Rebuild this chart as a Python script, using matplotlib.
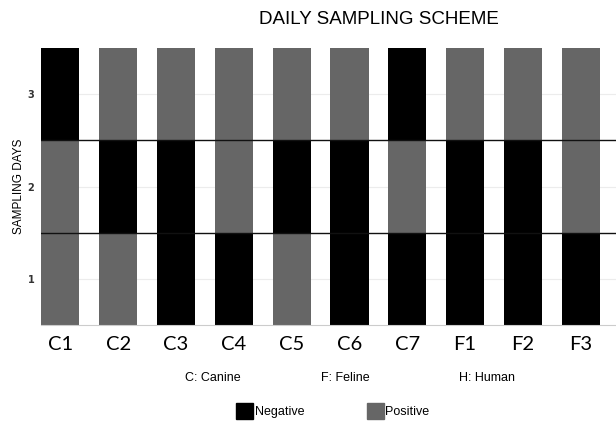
import matplotlib.pyplot as plt
import numpy as np
from matplotlib.patches import Patch

samples = ["C1", "C2", "C3", "C4", "C5", "C6", "C7", "F1", "F2", "F3"]
days = [1, 2, 3]
# 1 = positive, 0 = negative (per sampling day)
day1 = [1, 1, 0, 0, 1, 0, 0, 0, 0, 0]
day2 = [1, 0, 0, 1, 0, 0, 1, 0, 0, 1]
day3 = [0, 1, 1, 1, 1, 1, 0, 1, 1, 1]
species = ["C: Canine", "F: Feline", "H: Human"]

NEG = "#000000"
POS = "#666666"

fig = plt.figure(figsize=(6.16, 4.25), dpi=100)
ax = fig.add_axes([0.067, 0.235, 0.933, 0.652])

x = np.arange(len(samples))
bottom = np.zeros(len(samples))
for d, row in zip(days, [day1, day2, day3]):
    cols = [POS if v else NEG for v in row]
    ax.bar(x, 1, width=0.66, bottom=bottom, color=cols, zorder=2)
    bottom += 1

for d in days:
    ax.axhline(d - 0.5, color="#ececec", lw=0.8, zorder=1)
for b in [1, 2]:
    ax.axhline(b, color="#111111", lw=1.0, zorder=3)

ax.set_xlim(-0.33, 9.61)
ax.set_ylim(0, 3)
ax.set_yticks([d - 0.5 for d in days])
ax.set_yticklabels([str(d) for d in days], fontsize=7, fontweight="bold", color="#333333")
ax.tick_params(axis="y", length=0, pad=5)
ax.set_xticks(x)
ax.set_xticklabels(samples, fontsize=14.5, family="Lato")
ax.tick_params(axis="x", length=0, pad=8)
for s in ["top", "right", "left"]:
    ax.spines[s].set_visible(False)
ax.spines["bottom"].set_color("#cccccc")
ax.set_ylabel("SAMPLING DAYS", fontsize=8.5, family="Liberation Sans")
ax.yaxis.set_label_coords(-0.028, 0.5)

fig.text(0.615, 0.955, "DAILY SAMPLING SCHEME", ha="center", va="center",
         fontsize=13.5, family="Liberation Sans")

for sx, s in zip([0.345, 0.56, 0.79], species):
    fig.text(sx, 0.11, s, ha="center", va="center", fontsize=9, family="Liberation Sans")

handles = [Patch(color=NEG, label="Negative"), Patch(color=POS, label="Positive")]
fig.legend(handles=handles, loc="center", bbox_to_anchor=(0.54, 0.033), ncol=2,
           frameon=False, handlelength=1.4, handleheight=1.5, handletextpad=0.1,
           columnspacing=5, prop={"family": "Liberation Sans", "size": 9})

fig.savefig("out.png", dpi=100)
